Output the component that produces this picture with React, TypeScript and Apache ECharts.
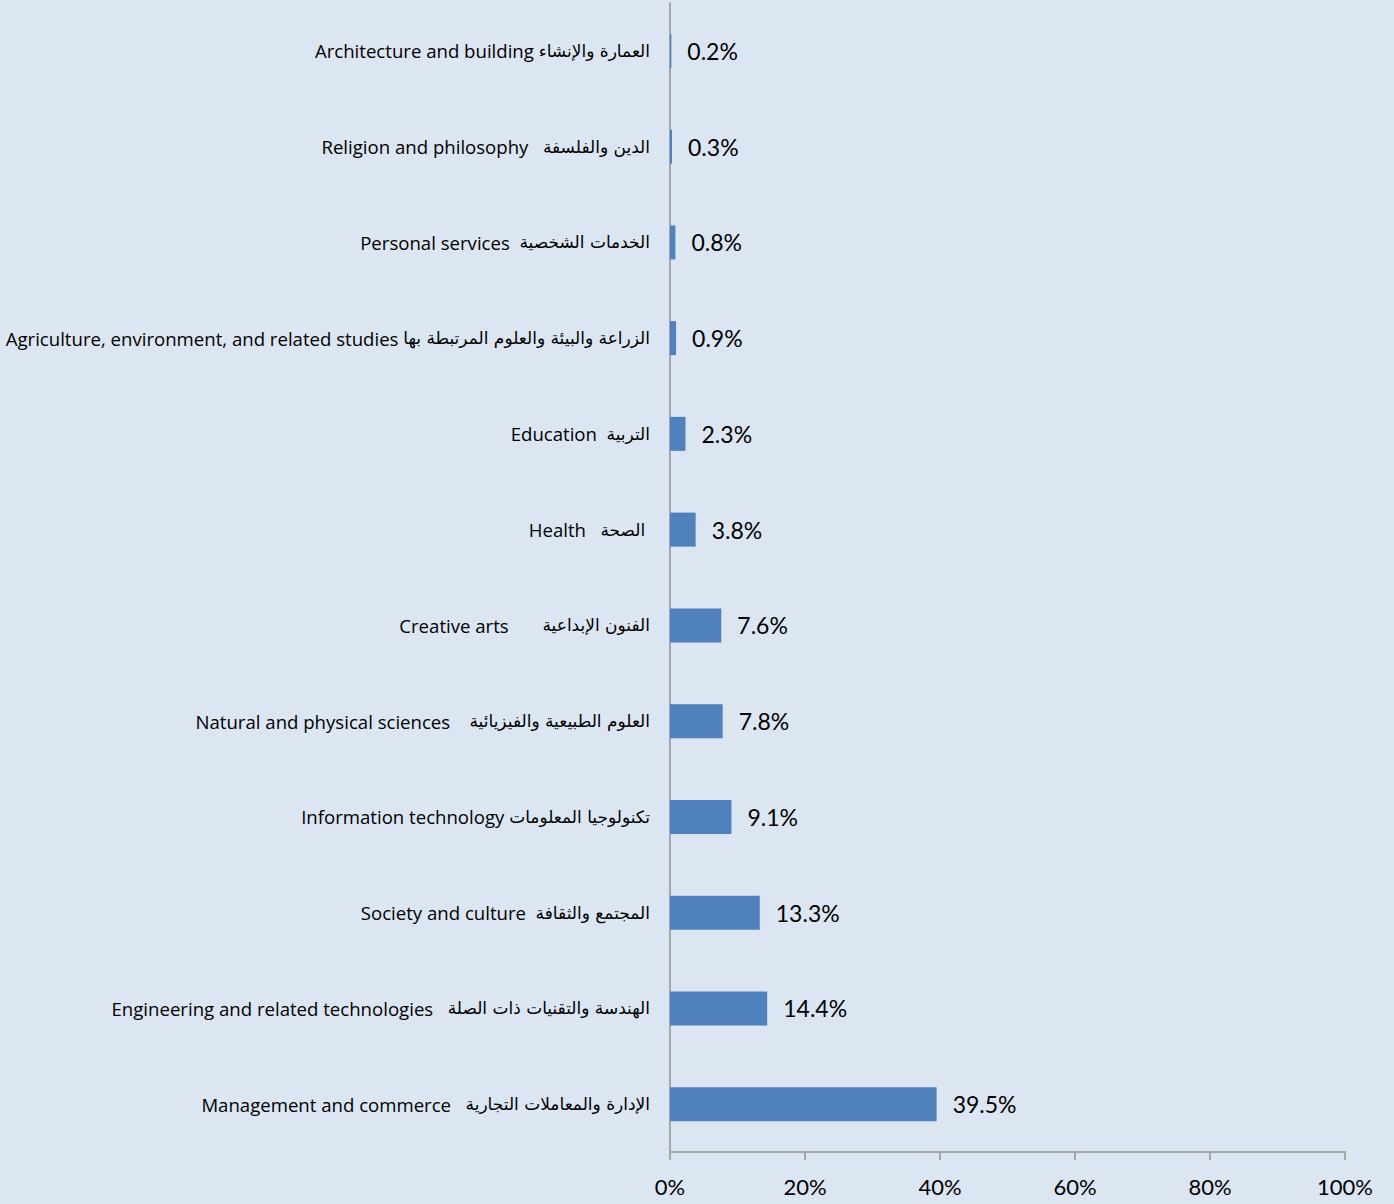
import React, { useEffect, useRef } from "react";
import * as echarts from "echarts";

const categoriesEn = [
  "Architecture and building",
  "Religion and philosophy",
  "Personal services",
  "Agriculture, environment, and related studies",
  "Education",
  "Health",
  "Creative arts",
  "Natural and physical sciences",
  "Information technology",
  "Society and culture",
  "Engineering and related technologies",
  "Management and commerce",
];
const categoriesAr = [
  "العمارة والإنشاء",
  "الدين والفلسفة",
  "الخدمات الشخصية",
  "الزراعة والبيئة والعلوم المرتبطة بها",
  "التربية",
  "الصحة",
  "الفنون الإبداعية",
  "العلوم الطبيعية والفيزيائية",
  "تكنولوجيا المعلومات",
  "المجتمع والثقافة",
  "الهندسة والتقنيات ذات الصلة",
  "الإدارة والمعاملات التجارية",
];
const values = [0.2, 0.3, 0.8, 0.9, 2.3, 3.8, 7.6, 7.8, 9.1, 13.3, 14.4, 39.5];
const xTicks = [0, 20, 40, 60, 80, 100];
// spacing between English and Arabic parts (number of spaces)
const labelGaps = [1, 3, 2, 1, 2, 3, 7, 4, 1, 2, 3, 3];
const labelTrail = [0, 0, 0, 0, 0, 1, 0, 0, 0, 0, 0, 0];

export default function App() {
  const ref = useRef<HTMLDivElement>(null);
  useEffect(() => {
    if (!ref.current) return;
    const chart = echarts.init(ref.current, undefined, { renderer: "svg" });
    chart.setOption({
      animation: false,
      backgroundColor: "#dce6f2",
      grid: { left: 670, right: 49, top: 3, bottom: 52, containLabel: false },
      xAxis: {
        type: "value",
        min: xTicks[0],
        max: xTicks[xTicks.length - 1],
        interval: 20,
        axisLine: { show: true, lineStyle: { color: "#a6a6a6", width: 2 } },
        axisTick: { show: true, length: 8, lineStyle: { color: "#a6a6a6", width: 2 } },
        splitLine: { show: false },
        axisLabel: {
          formatter: (v: number) => v + "%",
          color: "#000",
          fontSize: 22,
          fontFamily: "Lato",
          margin: 23,
        },
      },
      yAxis: {
        type: "category",
        inverse: true,
        data: categoriesEn,
        axisLine: { show: true, lineStyle: { color: "#a6a6a6", width: 2 } },
        axisTick: { show: false },
        axisLabel: {
          margin: 20,
          formatter: (_v: string, i: number) =>
            "{en|" + categoriesEn[i] + " ".repeat(labelGaps[i]) + "}{ar|" + categoriesAr[i] + "}" +
            (labelTrail[i] ? "{en|" + " ".repeat(labelTrail[i]) + "}" : ""),
          rich: {
            en: { color: "#000", fontSize: 18.6, fontFamily: "Open Sans" },
            ar: { color: "#000", fontSize: 17, fontFamily: "DejaVu Sans" },
          },
        },
      },
      series: [
        {
          type: "bar",
          data: values,
          barWidth: 34,
          itemStyle: { color: "#4f81bd" },
          label: {
            show: true,
            position: "right",
            distance: 16,
            formatter: (p: any) => p.value.toFixed(1) + "%",
            color: "#000",
            fontSize: 23,
            fontFamily: "Lato",
          },
        },
      ],
    });
    return () => chart.dispose();
  }, []);
  return (
    <div
      ref={ref}
      style={{ position: "fixed", left: 0, top: 0, width: 1394, height: 1204, background: "#dce6f2" }}
    />
  );
}
